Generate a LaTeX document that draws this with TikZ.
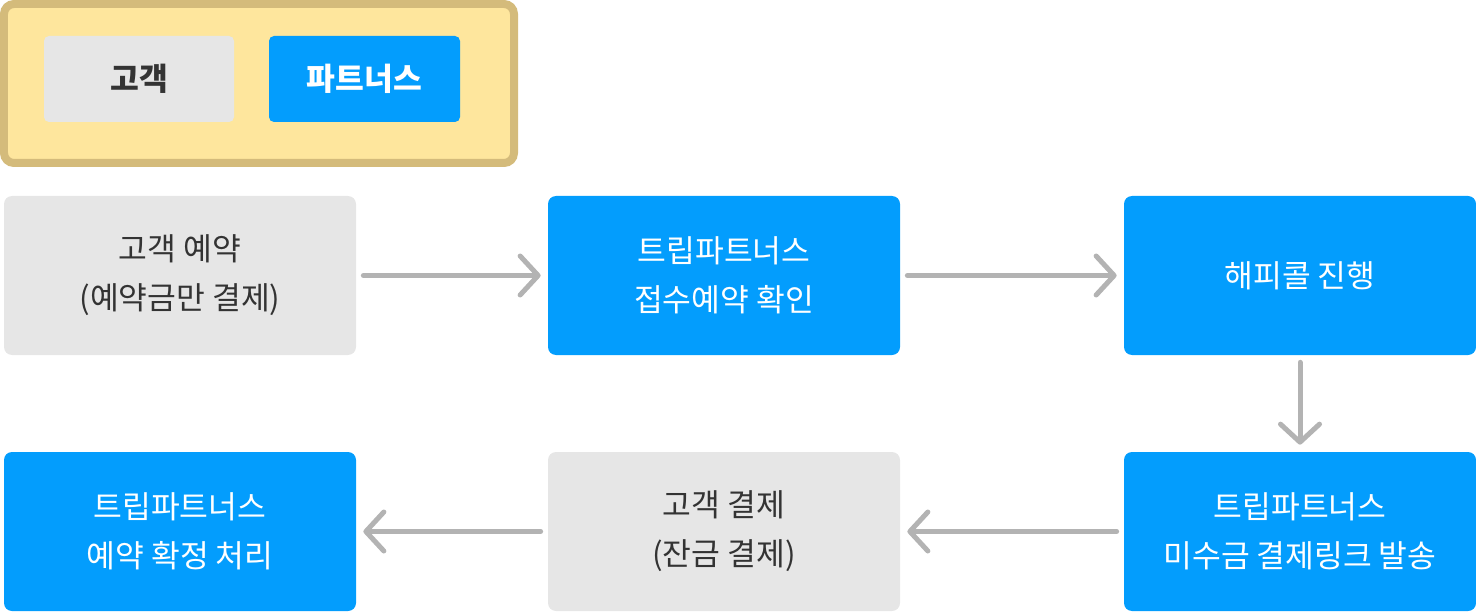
\documentclass[tikz,border=0pt]{standalone}
\usepackage{fontspec}
\setmainfont{Noto Sans CJK KR}
\usetikzlibrary{arrows.meta}
\definecolor{cCust}{HTML}{E6E6E6}
\definecolor{cCustTx}{HTML}{333333}
\definecolor{cPart}{HTML}{039DFD}
\definecolor{cLegBg}{HTML}{FEE69D}
\definecolor{cLegBd}{HTML}{D4BB7B}
\definecolor{cArr}{HTML}{B3B3B3}
\tikzset{
  box/.style={rounded corners=0.16cm, align=center, inner sep=0pt,
    font=\fontsize{17.8}{28}\selectfont},
  cust/.style={box, fill=cCust, text=cCustTx, minimum width=7.04cm, minimum height=3.18cm},
  part/.style={box, fill=cPart, text=white, minimum width=7.04cm, minimum height=3.18cm},
  legcust/.style={cust, font=\fontsize{17.8}{28}\selectfont\bfseries,
    minimum width=3.8cm, minimum height=1.72cm, rounded corners=0.1cm},
  legpart/.style={part, font=\fontsize{17.8}{28}\selectfont\bfseries,
    minimum width=3.82cm, minimum height=1.72cm, rounded corners=0.1cm},
  flow/.style={-{Straight Barb[length=0.36cm, width=0.78cm, round]}, draw=cArr,
    line width=0.1cm, line cap=round, shorten <=0.14cm, shorten >=0.14cm},
}
\begin{document}
\begin{tikzpicture}
    \useasboundingbox (0,0) rectangle (29.52,-12.24);
    % --- legend ---
    \node[draw=cLegBd, fill=cLegBg, line width=0.16cm, rounded corners=0.2cm,
      minimum width=10.2cm, minimum height=3.18cm] (leg) at (5.18,-1.67) {};
    \node[legcust] (lc) at (2.78,-1.58) {고객};
    \node[legpart] (lp) at (7.29,-1.58) {파트너스};
    % --- steps ---
    \node[cust] (s1) at (3.6,-5.51) {고객 예약\\(예약금만 결제)};
    \node[part] (s2) at (14.48,-5.51) {트립파트너스\\접수예약 확인};
    \node[part] (s3) at (26.0,-5.51) {해피콜 진행};
    \node[part] (s4) at (26.0,-10.63) {트립파트너스\\미수금 결제링크 발송};
    \node[cust] (s5) at (14.48,-10.63) {고객 결제\\(잔금 결제)};
    \node[part] (s6) at (3.6,-10.63) {트립파트너스\\예약 확정 처리};
    % --- arrows ---
    \draw[flow] (s1) -- (s2);
    \draw[flow] (s2) -- (s3);
    \draw[flow] (s3) -- (s4);
    \draw[flow] (s4) -- (s5);
    \draw[flow] (s5) -- (s6);
\end{tikzpicture}
\end{document}
